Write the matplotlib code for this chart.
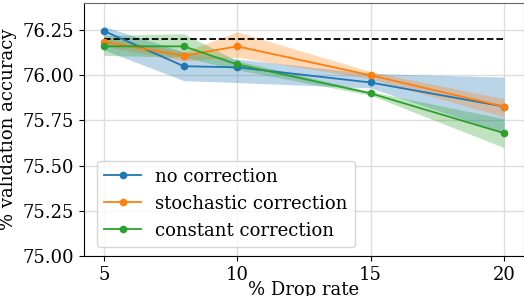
import numpy as np
from matplotlib import pyplot as plt

plt.rcParams['font.family'] = ['DejaVu Serif']

# drop rates
drop = [5, 8, 10, 15, 20]

# mean accuracy
no_corr = [76.245, 76.05, 76.044, 75.96, 75.827]
stoch_corr = [76.185, 76.108, 76.16, 76.0, 75.827]
const_corr = [76.16, 76.16, 76.06, 75.90, 75.68]

# band bounds
no_lo = [76.14, 75.97, 75.96, 75.93, 75.68]
no_hi = [76.27, 76.13, 76.09, 76.01, 75.99]
st_lo = [76.16, 76.08, 76.10, 75.98, 75.77]
st_hi = [76.21, 76.13, 76.24, 76.02, 75.87]
co_lo = [76.11, 76.10, 76.03, 75.89, 75.60]
co_hi = [76.22, 76.23, 76.08, 75.91, 75.76]

baseline = 76.2

fig, ax = plt.subplots(figsize=(5.24, 2.96), dpi=100)
plt.subplots_adjust(left=0.160, right=1.0, bottom=0.135, top=0.99)

ax.plot([drop[0], drop[-1]], [baseline, baseline], 'k--', lw=1.3)

series = [
    ('no correction', no_corr, no_lo, no_hi, 'C0'),
    ('stochastic correction', stoch_corr, st_lo, st_hi, 'C1'),
    ('constant correction', const_corr, co_lo, co_hi, 'C2'),
]
for name, y, lo, hi, c in series:
    ax.fill_between(drop, lo, hi, color=c, alpha=0.3, lw=0)
    ax.plot(drop, y, '-o', color=c, ms=4.5, lw=1.3, label=name)

ax.set_xlim(4.25, 20.75)
ax.set_ylim(75.0, 76.4)
ax.set_xticks([5, 10, 15, 20])
ax.set_yticks([75.0, 75.25, 75.5, 75.75, 76.0, 76.25])
ax.set_yticklabels(['75.00', '75.25', '75.50', '75.75', '76.00', '76.25'])
ax.grid(True, color='#dddddd', lw=1)
ax.set_axisbelow(True)
ax.tick_params(labelsize=13)
for s in ['top', 'right']:
    ax.spines[s].set_color('#666666')
ax.set_xlabel('% Drop rate', fontsize=13, labelpad=-2)
ax.set_ylabel('% validation accuracy', fontsize=13)
ax.legend(loc='lower left', fontsize=13, bbox_to_anchor=(0.01, 0.0))

plt.savefig('out.png')
